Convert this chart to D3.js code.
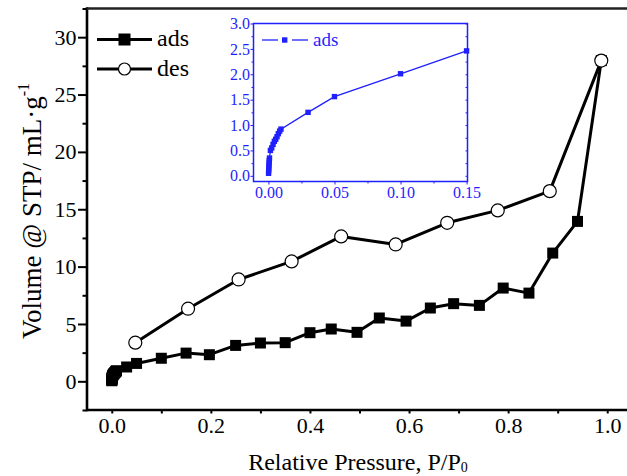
<!DOCTYPE html>
<html>
<head>
<meta charset="utf-8">
<script src="https://cdn.jsdelivr.net/npm/d3@7"></script>
<style>
  html, body { margin: 0; padding: 0; background: #fff; }
  svg { display: block; font-family: "Liberation Serif", "Times New Roman", serif; }
</style>
</head>
<body>
<svg id="chart" width="627" height="476"></svg>
<script>
// Low-pressure adsorption points (shown in the inset and in the main plot)
const lowP = [0.0001, 0.0002, 0.0003, 0.0004, 0.0005, 0.0006, 0.0008, 0.0015, 0.0025, 0.0035,
              0.0045, 0.0055, 0.0065, 0.0075, 0.0085, 0.0095, 0.03, 0.05, 0.10, 0.15];
const lowV = [0.05, 0.10, 0.15, 0.20, 0.25, 0.30, 0.35, 0.50, 0.55, 0.62,
              0.68, 0.72, 0.77, 0.83, 0.88, 0.92, 1.25, 1.56, 2.01, 2.46];

// Remaining adsorption branch
const adsHighP = [0.197, 0.25, 0.30, 0.35, 0.40, 0.443, 0.495, 0.54, 0.594, 0.643,
                  0.69, 0.742, 0.79, 0.842, 0.89, 0.94, 0.988];
const adsHighV = [2.32, 3.13, 3.34, 3.37, 4.24, 4.56, 4.27, 5.52, 5.25, 6.39,
                  6.77, 6.62, 8.13, 7.69, 11.18, 13.94, 27.96];

// Desorption branch
const desP = [0.0475, 0.154, 0.256, 0.363, 0.463, 0.573, 0.677, 0.779, 0.884, 0.988];
const desV = [3.37, 6.33, 8.88, 10.45, 12.63, 11.93, 13.82, 14.90, 16.58, 27.96];

const xTicks = [0.0, 0.2, 0.4, 0.6, 0.8, 1.0];
const yTicks = [0, 5, 10, 15, 20, 25, 30];
const insetXTicks = [0.00, 0.05, 0.10, 0.15];
const insetYTicks = [0.0, 0.5, 1.0, 1.5, 2.0, 2.5, 3.0];

const ads = lowP.map((p, i) => ({p, v: lowV[i]}))
  .concat(adsHighP.map((p, i) => ({p, v: adsHighV[i]})));
const des = desP.map((p, i) => ({p, v: desV[i]}));
const insetAds = lowP.map((p, i) => ({p, v: lowV[i]}));

const FONT = "'Liberation Serif', 'Times New Roman', serif";
const svg = d3.select("#chart");

// ---------- main plot ----------
const mL = 87, mR = 632, mT = 8.5, mB = 410;
const x = d3.scaleLinear().domain([-0.05, 1.05]).range([mL, mR]);
const y = d3.scaleLinear().domain([-2.5, 32.5]).range([mB, mT]);

const axisW = 2.6;

// frame: left, bottom, top
svg.append("line").attr("x1", mL).attr("x2", mL).attr("y1", mT - axisW/2).attr("y2", mB + axisW/2)
  .attr("stroke", "#000").attr("stroke-width", axisW);
svg.append("line").attr("x1", mL).attr("x2", 627).attr("y1", mB).attr("y2", mB)
  .attr("stroke", "#000").attr("stroke-width", axisW);
svg.append("line").attr("x1", mL).attr("x2", 627).attr("y1", mT).attr("y2", mT)
  .attr("stroke", "#222").attr("stroke-width", axisW);

function styleAxis(g, fs) {
  g.attr("font-family", FONT);
  g.select(".domain").remove();
  g.selectAll(".tick line").attr("stroke", "#000").attr("stroke-width", 2);
  g.selectAll(".tick text").attr("fill", "#000").style("font-size", fs + "px")
    .style("font-family", FONT);
}

// x axis (short ticks)
const xMinor = [0.1, 0.3, 0.5, 0.7, 0.9];
svg.append("g").attr("transform", `translate(0,${mB})`)
  .call(d3.axisBottom(x).tickValues(xMinor).tickSize(3.5).tickFormat(""))
  .call(g => styleAxis(g, 22));
svg.append("g").attr("transform", `translate(0,${mB})`)
  .call(d3.axisBottom(x).tickValues(xTicks).tickSize(3.5).tickPadding(4).tickFormat(d3.format(".1f")))
  .call(g => styleAxis(g, 22));

// y axis
const yMinor = [-2.5, 2.5, 7.5, 12.5, 17.5, 22.5, 27.5, 32.5];
svg.append("g").attr("transform", `translate(${mL},0)`)
  .call(d3.axisLeft(y).tickValues(yMinor).tickSize(4.5).tickFormat(""))
  .call(g => styleAxis(g, 22));
svg.append("g").attr("transform", `translate(${mL},0)`)
  .call(d3.axisLeft(y).tickValues(yTicks).tickSize(9).tickPadding(1.5))
  .call(g => styleAxis(g, 22));

// axis titles
svg.append("text").attr("x", 358).attr("y", 470).attr("text-anchor", "middle")
  .style("font-size", "24px").style("font-family", FONT).attr("fill", "#000")
  .call(t => {
    t.append("tspan").text("Relative Pressure, P/P");
    t.append("tspan").text("0").style("font-size", "14px").attr("dy", "2");
  });
svg.append("text").attr("transform", "translate(41,211) rotate(-90)").attr("text-anchor", "middle")
  .style("font-size", "27px").style("font-family", FONT).attr("fill", "#000")
  .call(t => {
    t.append("tspan").text("Volume @ STP/ mL\u00b7g");
    t.append("tspan").text("-1").style("font-size", "16px").attr("dy", "-12");
  });

// lines
const line = d3.line().x(d => x(d.p)).y(d => y(d.v));
svg.append("path").datum(des).attr("d", line).attr("fill", "none")
  .attr("stroke", "#000").attr("stroke-width", 3).attr("stroke-linejoin", "round");
svg.append("path").datum(ads).attr("d", line).attr("fill", "none")
  .attr("stroke", "#000").attr("stroke-width", 3).attr("stroke-linejoin", "round");

// markers
const sq = 11;
svg.append("g").selectAll("rect").data(ads).join("rect")
  .attr("x", d => x(d.p) - sq/2).attr("y", d => y(d.v) - sq/2)
  .attr("width", sq).attr("height", sq).attr("fill", "#000");
svg.append("g").selectAll("circle").data(des).join("circle")
  .attr("cx", d => x(d.p)).attr("cy", d => y(d.v)).attr("r", 6.5)
  .attr("fill", "#fff").attr("stroke", "#000").attr("stroke-width", 1.2);

// main legend
const legend = [
  {label: "ads", y: 39.5, shape: "square"},
  {label: "des", y: 69, shape: "circle"}
];
const lg = svg.append("g");
legend.forEach(d => {
  lg.append("line").attr("x1", 97).attr("x2", 152).attr("y1", d.y).attr("y2", d.y)
    .attr("stroke", "#000").attr("stroke-width", 3);
  if (d.shape === "square") {
    lg.append("rect").attr("x", 118.5).attr("y", d.y - 6).attr("width", 12).attr("height", 12).attr("fill", "#000");
  } else {
    lg.append("circle").attr("cx", 124.5).attr("cy", d.y).attr("r", 6)
      .attr("fill", "#fff").attr("stroke", "#000").attr("stroke-width", 1.2);
  }
  lg.append("text").attr("x", 157).attr("y", d.y + 6.5).style("font-size", "24px")
    .style("font-family", FONT).attr("fill", "#000").text(d.label);
});

// ---------- inset ----------
const blue = "#1f1fff";
const iL = 253.5, iR = 467.5, iT = 23.5, iB = 181.5;
const ix = d3.scaleLinear().domain([-0.0113, 0.1507]).range([iL, iR]);
const iy = d3.scaleLinear().domain([-0.112, 3.0]).range([iB, iT]);

svg.append("rect").attr("x", iL).attr("y", iT).attr("width", iR - iL).attr("height", iB - iT)
  .attr("fill", "#fff").attr("stroke", blue).attr("stroke-width", 1.5);

function styleInset(g) {
  g.attr("font-family", FONT);
  g.select(".domain").remove();
  g.selectAll(".tick line").attr("stroke", blue).attr("stroke-width", 1);
  g.selectAll(".tick text").attr("fill", blue).style("font-size", "16px")
    .style("font-family", FONT);
}
const ixMinor = [0.025, 0.075, 0.125];
svg.append("g").attr("transform", `translate(0,${iB})`)
  .call(d3.axisBottom(ix).tickValues(ixMinor).tickSize(2).tickFormat(""))
  .call(styleInset);
svg.append("g").attr("transform", `translate(0,${iB})`)
  .call(d3.axisBottom(ix).tickValues(insetXTicks).tickSize(3).tickPadding(2).tickFormat(d3.format(".2f")))
  .call(styleInset);
const iyMinor = [0.25, 0.75, 1.25, 1.75, 2.25, 2.75];
svg.append("g").attr("transform", `translate(${iL},0)`)
  .call(d3.axisLeft(iy).tickValues(iyMinor).tickSize(2).tickFormat(""))
  .call(styleInset);
svg.append("g").attr("transform", `translate(${iL},0)`)
  .call(d3.axisLeft(iy).tickValues(insetYTicks).tickSize(3).tickPadding(0.5).tickFormat(d3.format(".1f")))
  .call(styleInset);
// mirrored ticks on right edge
svg.append("g").attr("transform", `translate(${iR},0)`)
  .call(d3.axisRight(iy).tickValues(insetYTicks.concat(iyMinor)).tickSize(-2).tickFormat(""))
  .call(styleInset);

const iline = d3.line().x(d => ix(d.p)).y(d => iy(d.v));
svg.append("path").datum(insetAds).attr("d", iline).attr("fill", "none")
  .attr("stroke", blue).attr("stroke-width", 1.3);
svg.append("g").selectAll("rect").data(insetAds).join("rect")
  .attr("x", d => ix(d.p) - 2.7).attr("y", d => iy(d.v) - 2.7)
  .attr("width", 5.4).attr("height", 5.4).attr("fill", blue);

// inset legend
svg.append("line").attr("x1", 262).attr("x2", 278).attr("y1", 40).attr("y2", 40).attr("stroke", blue).attr("stroke-width", 1.3);
svg.append("line").attr("x1", 292).attr("x2", 308).attr("y1", 40).attr("y2", 40).attr("stroke", blue).attr("stroke-width", 1.3);
svg.append("rect").attr("x", 282).attr("y", 37.3).attr("width", 5.4).attr("height", 5.4).attr("fill", blue);
svg.append("text").attr("x", 313).attr("y", 46).style("font-size", "19px")
  .style("font-family", FONT).attr("fill", blue).text("ads");
</script>
</body>
</html>
